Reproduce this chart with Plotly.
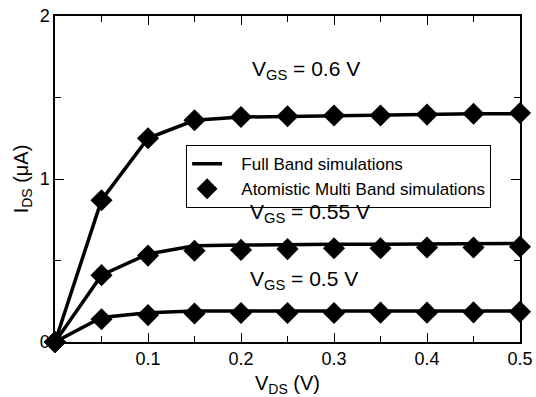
import plotly.graph_objects as go

vds = [0.0, 0.05, 0.1, 0.15, 0.2, 0.25, 0.3, 0.35, 0.4, 0.45, 0.5]

# Full Band simulations (lines)
fb_060 = [0.0, 0.87, 1.25, 1.36, 1.38, 1.385, 1.39, 1.39, 1.395, 1.40, 1.40]
fb_055 = [0.0, 0.41, 0.54, 0.59, 0.595, 0.60, 0.60, 0.60, 0.60, 0.605, 0.605]
fb_050 = [0.0, 0.15, 0.18, 0.19, 0.19, 0.19, 0.19, 0.19, 0.19, 0.19, 0.19]

# Atomistic Multi Band simulations (markers)
amb_060 = [0.0, 0.87, 1.25, 1.36, 1.38, 1.385, 1.39, 1.39, 1.395, 1.40, 1.405]
amb_055 = [0.0, 0.41, 0.53, 0.56, 0.565, 0.57, 0.575, 0.575, 0.58, 0.58, 0.585]
amb_050 = [0.0, 0.14, 0.165, 0.175, 0.178, 0.178, 0.178, 0.18, 0.18, 0.182, 0.185]

labels = ["V<sub>GS</sub> = 0.6 V", "V<sub>GS</sub> = 0.55 V", "V<sub>GS</sub> = 0.5 V"]
label_x = [0.21, 0.207, 0.207]
label_y = [1.67, 0.79, 0.38]

xticks = [0.1, 0.2, 0.3, 0.4, 0.5]
yticks = [0, 1, 2]

FONT = "Liberation Sans, Arial, Helvetica, sans-serif"
PAD = "\u00a0\u00a0\u00a0"

fig = go.Figure()
for i, ys in enumerate([fb_060, fb_055, fb_050]):
    fig.add_trace(go.Scatter(x=vds, y=ys, mode="lines",
                             line=dict(color="black", width=3.5),
                             name=PAD + "Full Band simulations",
                             showlegend=(i == 0), legendrank=1))
for i, ys in enumerate([amb_060, amb_055, amb_050]):
    fig.add_trace(go.Scatter(x=vds, y=ys, mode="markers",
                             marker=dict(symbol="diamond", size=17, color="black"),
                             name=PAD + "Atomistic Multi Band simulations",
                             showlegend=(i == 0), legendrank=2, cliponaxis=False))

for t, x, y in zip(labels, label_x, label_y):
    fig.add_annotation(x=x, y=y, xref="x", yref="y", text=t, showarrow=False,
                       xanchor="left", yanchor="middle",
                       font=dict(family=FONT, size=21, color="black"))

axis_common = dict(showline=True, linecolor="black", linewidth=1.5, mirror="ticks",
                   ticks="inside", ticklen=9, tickwidth=1.2, tickcolor="black",
                   showgrid=False, zeroline=False, automargin=False,
                   tickfont=dict(family=FONT, size=18, color="black"))

fig.update_xaxes(range=[0, 0.5], tickvals=xticks, ticktext=[str(v) for v in xticks],
                 title=dict(text="V<sub>DS</sub> (V)", font=dict(family=FONT, size=20, color="black"),
                            standoff=9),
                 minor=dict(dtick=0.05, ticks="inside", ticklen=6, tickcolor="black", tickwidth=1.2),
                 **axis_common)
fig.update_yaxes(range=[0, 2], tickvals=yticks, ticktext=[str(v) for v in yticks],
                 title=dict(text="I<sub>DS</sub> (μA)", font=dict(family=FONT, size=20, color="black"),
                            standoff=6),
                 minor=dict(dtick=0.5, ticks="inside", ticklen=6, tickcolor="black", tickwidth=1.2),
                 **axis_common)

fig.update_layout(
    width=536, height=397,
    margin=dict(l=55, r=16, t=16, b=55),
    plot_bgcolor="white", paper_bgcolor="white",
    font=dict(family=FONT, color="black"),
    legend=dict(x=0.282, y=0.604, xanchor="left", yanchor="top",
                bordercolor="black", borderwidth=1, bgcolor="white",
                font=dict(family=FONT, size=17, color="black"),
                tracegroupgap=0, itemsizing="trace"),
)

fig.write_html("out.html", config={"displayModeBar": False},
               post_script="document.body.style.margin='0';")
